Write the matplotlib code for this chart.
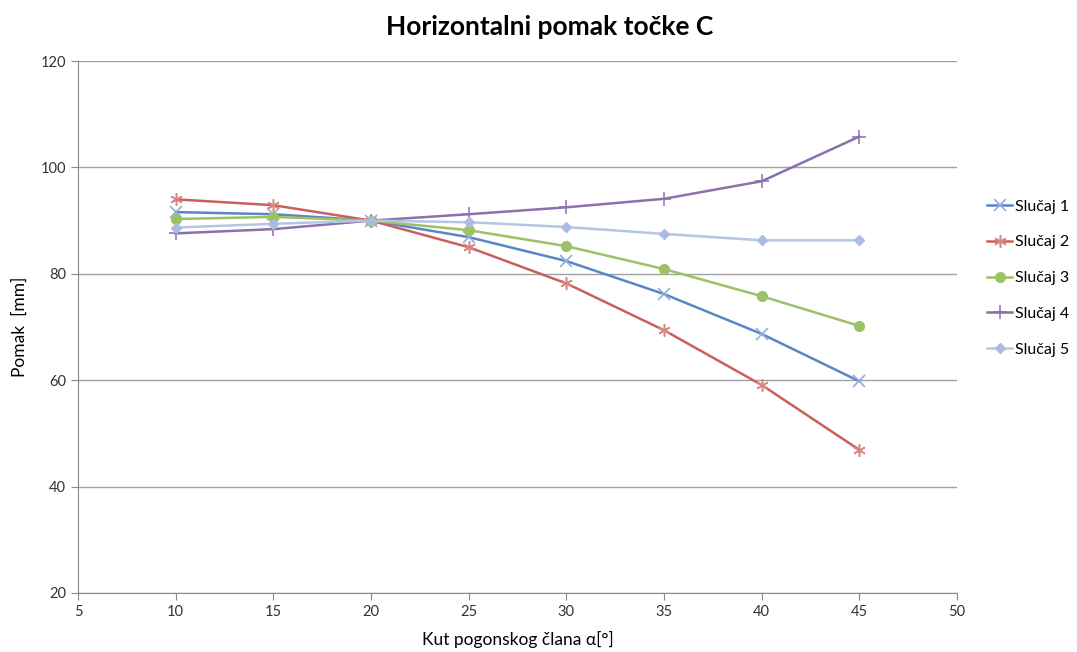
import matplotlib
matplotlib.use("Agg")
import matplotlib.pyplot as plt

angles = [10, 15, 20, 25, 30, 35, 40, 45]
slucaj1 = [91.6, 91.2, 90.0, 86.9, 82.4, 76.2, 68.7, 59.8]
slucaj2 = [94.0, 92.9, 90.0, 85.0, 78.2, 69.4, 59.1, 46.9]
slucaj3 = [90.3, 90.7, 90.0, 88.2, 85.2, 80.9, 75.8, 70.2]
slucaj4 = [87.6, 88.4, 90.0, 91.2, 92.5, 94.1, 97.4, 105.8]
slucaj5 = [88.7, 89.4, 90.0, 89.7, 88.8, 87.5, 86.3, 86.3]
labels = ["Slučaj 1", "Slučaj 2", "Slučaj 3", "Slučaj 4", "Slučaj 5"]

plt.rcParams['font.family'] = ['Lato', 'DejaVu Sans']

fig = plt.figure(figsize=(10.77, 6.52), dpi=100)
ax = fig.add_axes([0.0724, 0.0905, 0.8162, 0.8159])

styles = [
    dict(color='#5B86C5', marker='x', mec='#93AEDC', ms=8, mew=1.2),
    dict(color='#C9605C', marker=(6, 2, 0), mec='#D98582', ms=9, mew=1.1),
    dict(color='#9EC165', marker='o', mec='#9EC165', mfc='#9EC165', ms=7),
    dict(color='#8C70AE', marker='+', mec='#8C70AE', ms=10, mew=1.1),
    dict(color='#B6C6E2', marker='D', mec='#AABCE0', mfc='#AABCE0', ms=5),
]
series = [slucaj1, slucaj2, slucaj3, slucaj4, slucaj5]
for s, lab, st in zip(series, labels, styles):
    ax.plot(angles, s, lw=1.8, label=lab, **st)

ax.set_xlim(5, 50)
ax.set_ylim(20, 120)
ax.set_xticks(range(5, 51, 5))
ax.set_yticks(range(20, 121, 20))
ax.grid(axis='y', color='#A0A0A0', lw=1)
ax.set_axisbelow(True)
for sp in ['top', 'right']:
    ax.spines[sp].set_visible(False)
for sp in ['left', 'bottom']:
    ax.spines[sp].set_color('#888888')
ax.tick_params(axis='both', colors='#888888', labelcolor='#333333', labelsize=10.5, length=5, direction='out')

fig.text(0.51, 0.958, "Horizontalni pomak točke C", fontsize=19, fontweight='bold',
         ha='center', va='center')
ax.set_xlabel("Kut pogonskog člana α[°]", fontsize=12.5, labelpad=9)
ax.set_ylabel("Pomak  [mm]", fontsize=12.5, labelpad=9)

leg = ax.legend(loc='center left', bbox_to_anchor=(1.034, 0.592), frameon=False, fontsize=11.5,
                handlelength=1.6, labelspacing=1.35, handletextpad=0.15,
                borderaxespad=0, borderpad=0)

fig.savefig("out.png", dpi=100)
